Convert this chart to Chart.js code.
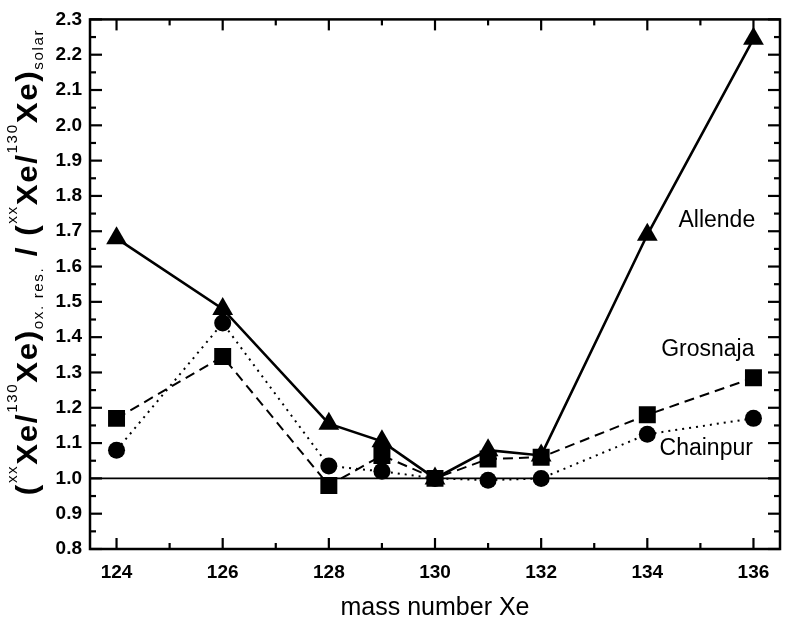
<!DOCTYPE html>
<html>
<head>
<meta charset="utf-8">
<script src="https://cdn.jsdelivr.net/npm/chart.js@4.4.0/dist/chart.umd.min.js"></script>
<style>
  html, body { margin: 0; padding: 0; background: #fff; }
  #wrap { width: 792px; height: 623px; }
</style>
</head>
<body>
<div id="wrap"><canvas id="xeChart"></canvas></div>
<script>
// values
const massNumbers = [124, 126, 128, 129, 130, 131, 132, 134, 136];
const allende  = [1.68, 1.48, 1.155, 1.105, 1.00, 1.08, 1.065, 1.69, 2.245];
const grosnaja = [1.17, 1.345, 0.98, 1.065, 1.00, 1.055, 1.06, 1.18, 1.285];
const chainpur = [1.08, 1.44, 1.035, 1.02, 1.00, 0.995, 1.00, 1.125, 1.17];
const solarLine = [1.0, 1.0];

const xRange = [123.5, 136.5];
const yRange = [0.8, 2.3];
const xTicks = [124, 126, 128, 130, 132, 134, 136];
const xMinorTicks = [125, 127, 129, 131, 133, 135];
const yTicks = [0.8, 0.9, 1.0, 1.1, 1.2, 1.3, 1.4, 1.5, 1.6, 1.7, 1.8, 1.9, 2.0, 2.1, 2.2, 2.3];
const yMinorTicks = [0.85, 0.95, 1.05, 1.15, 1.25, 1.35, 1.45, 1.55, 1.65, 1.75, 1.85, 1.95, 2.05, 2.15, 2.25];

const seriesNames = ['Allende', 'Grosnaja', 'Chainpur'];
const labelX = [135.31, 135.14, 135.11];
const labelY = [1.729, 1.366, 1.083];

const FONT = '"Liberation Sans", Arial, Helvetica, sans-serif';
const INK = '#000';

const toPoints = (vals) => massNumbers.map((m, i) => ({ x: m, y: vals[i] }));

// frame with inward ticks on all four sides, series names, rich y title
const framePlugin = {
    id: 'frame',
    afterDatasetsDraw(chart) {
        const { ctx, chartArea: a, scales: { x, y } } = chart;
        ctx.save();
        ctx.strokeStyle = INK;
        ctx.lineWidth = 2.5;
        ctx.lineCap = 'butt';
        ctx.strokeRect(a.left, a.top, a.right - a.left, a.bottom - a.top);

        const tick = (x1, y1, x2, y2) => { ctx.beginPath(); ctx.moveTo(x1, y1); ctx.lineTo(x2, y2); ctx.stroke(); };
        ctx.lineWidth = 2.2;
        xTicks.forEach(v => { const px = x.getPixelForValue(v); tick(px, a.bottom, px, a.bottom - 11); tick(px, a.top, px, a.top + 11); });
        xMinorTicks.forEach(v => { const px = x.getPixelForValue(v); tick(px, a.bottom, px, a.bottom - 6); tick(px, a.top, px, a.top + 6); });
        yTicks.forEach(v => { const py = y.getPixelForValue(v); tick(a.left, py, a.left + 12, py); tick(a.right, py, a.right - 12, py); });
        yMinorTicks.forEach(v => { const py = y.getPixelForValue(v); tick(a.left, py, a.left + 6, py); tick(a.right, py, a.right - 6, py); });

        // series names
        ctx.fillStyle = INK;
        ctx.font = `23px ${FONT}`;
        ctx.textAlign = 'center';
        ctx.textBaseline = 'middle';
        seriesNames.forEach((name, i) => {
            ctx.fillText(name, x.getPixelForValue(labelX[i]), y.getPixelForValue(labelY[i]));
        });

        drawYTitle(ctx);
        ctx.restore();
    }
};

// (xxXe/130Xe)ox. res. / (xxXe/130Xe)solar, written bottom to top
function drawYTitle(ctx) {
    const parts = [
        ['(', 'main'], ['xx', 'sup'], ['Xe/', 'main'], ['130', 'sup'], ['Xe)', 'main'], ['ox. res.', 'sub'],
        [' / (', 'main'], ['xx', 'sup'], ['Xe/', 'main'], ['130', 'sup'], ['Xe)', 'main'], ['solar', 'sub']
    ];
    const fonts = { main: `bold 29px ${FONT}`, sup: `14px ${FONT}`, sub: `14px ${FONT}` };
    const spacing = { main: 1.5, sup: 1.5, sub: 1.5 };
    const shift = { main: 0, sup: -20, sub: 6 };

    ctx.save();
    ctx.translate(37, 262);
    ctx.rotate(-Math.PI / 2);
    ctx.scale(1.08, 1);
    ctx.fillStyle = INK;
    ctx.textAlign = 'left';
    ctx.textBaseline = 'alphabetic';
    const glyphs = [];
    parts.forEach(([t, k]) => [...t].forEach(ch => glyphs.push([ch, k])));
    let total = 0;
    glyphs.forEach(([ch, k]) => { ctx.font = fonts[k]; total += ctx.measureText(ch).width + spacing[k]; });
    let pos = -total / 2;
    glyphs.forEach(([ch, k]) => {
        ctx.font = fonts[k];
        ctx.fillText(ch, pos, shift[k]);
        pos += ctx.measureText(ch).width + spacing[k];
    });
    ctx.restore();
}

new Chart(document.getElementById('xeChart'), {
    type: 'scatter',
    data: {
        datasets: [
            {
                label: 'Allende', data: toPoints(allende), showLine: true,
                borderColor: INK, backgroundColor: INK, borderWidth: 2.6,
                pointStyle: 'triangle', pointRadius: 12, pointBorderWidth: 0
            },
            {
                label: 'Grosnaja', data: toPoints(grosnaja), showLine: true,
                borderColor: INK, backgroundColor: INK, borderWidth: 2, borderDash: [10, 6],
                pointStyle: 'rect', pointRadius: 12, pointBorderWidth: 0
            },
            {
                label: 'Chainpur', data: toPoints(chainpur), showLine: true,
                borderColor: INK, backgroundColor: INK, borderWidth: 2, borderDash: [2, 5],
                pointStyle: 'circle', pointRadius: 8.5, pointBorderWidth: 0
            },
            {
                label: 'solar', data: xRange.map((v, i) => ({ x: v, y: solarLine[i] })), showLine: true,
                borderColor: INK, borderWidth: 1.8, pointRadius: 0
            }
        ]
    },
    options: {
        responsive: true,
        maintainAspectRatio: false,
        animation: false,
        layout: { padding: { left: 0, right: 2, top: 13, bottom: 0 } },
        plugins: { legend: { display: false }, tooltip: { enabled: false } },
        scales: {
            x: {
                type: 'linear', min: xRange[0], max: xRange[1],
                grid: { display: false, drawTicks: false },
                border: { display: false },
                afterBuildTicks: s => { s.ticks = xTicks.map(v => ({ value: v })); },
                afterFit: s => { s.height = 74; },
                ticks: { color: INK, padding: 12, maxRotation: 0, font: { family: FONT, size: 19, weight: 'bold' } },
                title: { display: true, text: 'mass number Xe', color: INK, padding: { top: 0, bottom: 0 }, font: { family: FONT, size: 25 } }
            },
            y: {
                type: 'linear', min: yRange[0], max: yRange[1],
                grid: { display: false, drawTicks: false },
                border: { display: false },
                afterBuildTicks: s => { s.ticks = yTicks.map(v => ({ value: v })); },
                afterFit: s => { s.width = 90; },
                ticks: { color: INK, padding: 8, callback: v => v.toFixed(1), font: { family: FONT, size: 19, weight: 'bold' } }
            }
        }
    },
    plugins: [framePlugin]
});
</script>
</body>
</html>
